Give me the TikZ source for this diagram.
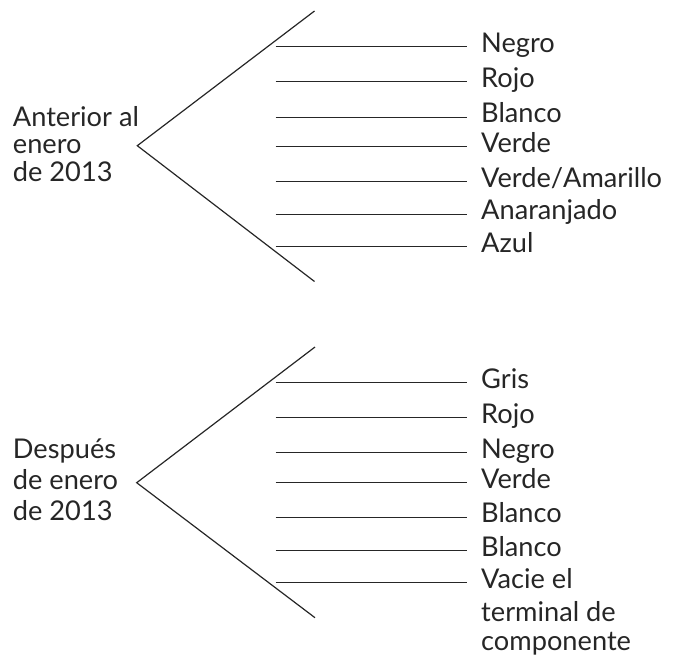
\documentclass[tikz,border=0pt]{standalone}
\usepackage{fontspec}
\setmainfont{Lato}
\begin{document}
\begin{tikzpicture}[x=1pt,y=-1pt,
  lbl/.style={anchor=base west,inner sep=0pt,font=\fontsize{27.2}{32}\selectfont,text=black!85},
  ln/.style={draw=black!85,line width=1.2pt}]
\useasboundingbox (0,0) rectangle (682,662);
% ---------- top group ----------
\coordinate (tA) at (137.3,145.7);
\coordinate (tT) at (314.5,11);
\coordinate (tB) at (314.5,281.5);
\draw[ln] (tT) -- (tA) -- (tB);
\node[lbl] (ta1) at (12.7,126.7) {Anterior al};
\node[lbl] (ta2) at (12.7,153.5) {enero};
\node[lbl] (ta3) at (12.7,181.7) {de 2013};
\foreach \y/\t/\n in {46.7/Negro/1,81.7/Rojo/2,117.3/Blanco/3,146.7/Verde/4,181.7/Verde\slash Amarillo/5,214.3/Anaranjado/6,246.7/Azul/7}{
  \coordinate (ts\n) at (275.5,\y);
  \coordinate (te\n) at (466.7,\y);
  \node[lbl] (tl\n) at (481,\y+5.3) {\t};
  \draw[ln] (ts\n) -- (te\n);
}
% ---------- bottom group ----------
\coordinate (bA) at (136.7,482.7);
\coordinate (bT) at (315,347);
\coordinate (bB) at (315,617.7);
\draw[ln] (bT) -- (bA) -- (bB);
\node[lbl] (bd1) at (12.7,458.3) {Después};
\node[lbl] (bd2) at (12.7,489.5) {de enero};
\node[lbl] (bd3) at (12.7,520.7) {de 2013};
\foreach \y/\t/\n in {382.7/Gris/1,417.7/Rojo/2,452.7/Negro/3,482.7/Verde/4,517.3/Blanco/5,550.7/Blanco/6,582.7/Vacie el/7}{
  \coordinate (bs\n) at (275.5,\y);
  \coordinate (be\n) at (466.7,\y);
  \node[lbl] (bl\n) at (481,\y+5.5) {\t};
  \draw[ln] (bs\n) -- (be\n);
}
\node[lbl] (bl8) at (481,621) {terminal de};
\node[lbl] (bl9) at (481,650.5) {componente};
\end{tikzpicture}
\end{document}
